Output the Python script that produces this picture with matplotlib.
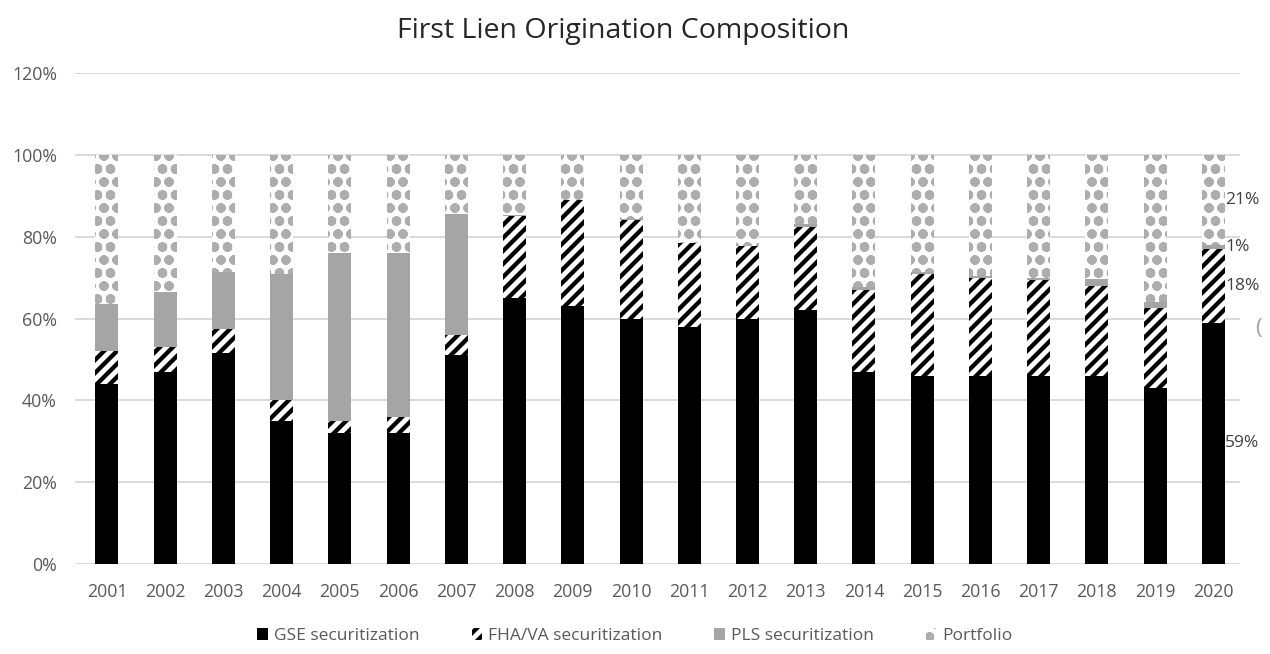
import numpy as np
import matplotlib
matplotlib.use("Agg")
import matplotlib.pyplot as plt
from matplotlib.patches import Patch

years = [str(y) for y in range(2001, 2021)]
gse = [44, 47, 51.5, 35, 32, 32, 51, 65, 63, 60, 58, 60, 62, 47, 46, 46, 46, 46, 43, 59]
fha = [8, 6, 6, 5, 3, 4, 5, 20, 26, 24, 20.5, 17.7, 20.5, 20, 25, 24, 23.4, 22, 19.5, 18]
pls = [11.5, 13.5, 14, 31, 41, 40, 29.5, 0.2, 0, 0.3, 0, 0, 0.5, 0.8, 0.3, 0.4, 0.4, 1.6, 1.5, 1]
portfolio = [100 - a - b - c for a, b, c in zip(gse, fha, pls)]

labels_2020 = ["59%", "18%", "1%", "21%"]

# drawn at 78 dpi so the hatch spacing matches the Excel patterns;
# sizes below are given as if at 100 dpi and scaled
DPI = 78
K = 100 / DPI

plt.rcParams['font.family'] = ['Open Sans', 'DejaVu Sans']
plt.rcParams['hatch.linewidth'] = 4.0

fig = plt.figure(figsize=(1270 / DPI, 654 / DPI), dpi=DPI)
ax = fig.add_axes([0.059, 0.1376, 0.917, 0.7506])

x = np.arange(len(years))
w = 0.395
b1 = np.array(gse)
b2 = b1 + np.array(fha)
b3 = b2 + np.array(pls)

ax.bar(x, gse, w, color='black', zorder=2)
ax.bar(x, fha, w, bottom=b1, facecolor='white', edgecolor='black', hatch='//', linewidth=0, zorder=2)
ax.bar(x, pls, w, bottom=b2, color='#A5A5A5', zorder=2)
ax.bar(x, portfolio, w, bottom=b3, facecolor='white', edgecolor='#ADADAD', hatch='o', linewidth=0, zorder=2)

# data labels on the last bar
segs = [(0, gse[-1]), (b1[-1], fha[-1]), (b2[-1], pls[-1]), (b3[-1], portfolio[-1])]
for (base, h), lab in zip(segs, labels_2020):
    ax.text(x[-1] + w / 2 + 0.005, base + h / 2, lab, ha='left', va='center',
            fontsize=12.5 * K, color='#404040', zorder=3)

ax.set_xlim(-0.55, 19.45)
ax.set_ylim(0, 120)
ax.set_yticks(range(0, 121, 20))
ax.set_yticklabels([f"{v}%" for v in range(0, 121, 20)])
ax.set_xticks(x)
ax.set_xticklabels(years)
ax.tick_params(length=0, labelsize=12.8 * K, colors='#595959')
ax.tick_params(axis='x', pad=14 * K)
ax.tick_params(axis='y', pad=13 * K)
ax.grid(axis='y', color='#D9D9D9', linewidth=1.4 * K, zorder=0)
for s in ax.spines.values():
    s.set_visible(False)

fig.text(0.491, 0.952, "First Lien Origination Composition", ha='center', va='center',
         fontsize=20.5 * K, color='#262626')

# clipped grey glyph at the right edge of the original image
fig.text(0.988, 0.498, "(", ha='left', va='center', fontsize=16 * K, color='#A0A0A0')

handles = [
    Patch(facecolor='black', label='GSE securitization'),
    Patch(facecolor='white', edgecolor='black', hatch='//', linewidth=0, label='FHA/VA securitization'),
    Patch(facecolor='#A5A5A5', label='PLS securitization'),
    Patch(facecolor='white', edgecolor='#ADADAD', hatch='o', linewidth=0, label='Portfolio'),
]
fig.legend(handles=handles, loc='center', bbox_to_anchor=(0.5, 0.027), ncol=4, frameon=False,
           fontsize=12.5 * K, handlelength=0.6, handleheight=0.7, handletextpad=0.35,
           columnspacing=3.0, labelcolor='#595959')

fig.savefig("out.png", dpi=DPI)
